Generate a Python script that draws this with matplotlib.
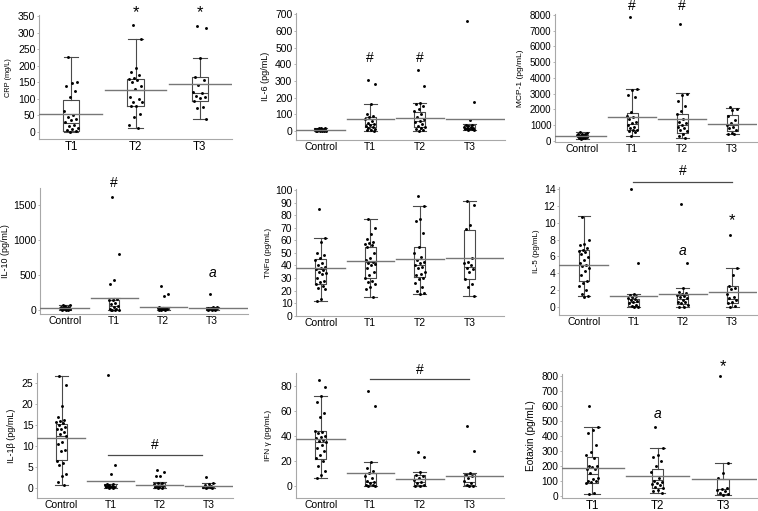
import numpy as np
import matplotlib
matplotlib.use("Agg")
import matplotlib.pyplot as plt

plt.rcParams["font.family"] = ["Liberation Sans", "DejaVu Sans"]

W, H = 758, 511

# ---- data ----
# CRP
crp_groups = ["T1", "T2", "T3"]
crp_points = [
    [225, 150, 147, 138, 123, 107, 62, 52, 46, 38, 35, 30, 22, 18, 12, 8, 5, 2, 0],
    [322, 281, 192, 182, 172, 162, 160, 158, 150, 140, 130, 105, 100, 92, 90, 80, 78, 55, 45, 22, 11],
    [320, 313, 222, 165, 158, 143, 122, 118, 110, 105, 103, 95, 75, 72, 39],
]
crp_q1 = [3, 78, 94]
crp_med = [26, 128, 119]
crp_q3 = [96, 161, 165]
crp_lo = [0, 11, 39]
crp_hi = [225, 281, 222]
crp_mean = [53, 128, 144]

# IL-6
il6_groups = ["Control", "T1", "T2", "T3"]
il6_points = [
    [20, 18, 16, 14, 12, 11, 10, 9, 8, 7, 6, 5, 5, 4, 3, 3, 2, 1, 1, 0],
    [305, 285, 163, 100, 92, 82, 72, 62, 50, 42, 35, 28, 22, 18, 12, 8, 4, 0],
    [365, 270, 166, 160, 150, 130, 120, 100, 82, 72, 62, 52, 42, 32, 26, 20, 12, 6, 3],
    [662, 172, 66, 38, 35, 30, 26, 22, 20, 18, 15, 12, 10, 8, 5],
]
il6_q1 = [2, 22, 22, 10]
il6_med = [6, 40, 62, 20]
il6_q3 = [12, 86, 116, 34]
il6_lo = [0, 0, 3, 5]
il6_hi = [20, 163, 166, 40]
il6_mean = [8, 72, 80, 74]

# MCP-1
mcp_groups = ["Control", "T1", "T2", "T3"]
mcp_points = [
    [560, 500, 450, 420, 400, 380, 360, 340, 320, 300, 290, 280, 260, 240, 220, 200, 180, 150, 100],
    [7900, 3300, 3200, 2900, 2800, 1850, 1600, 1500, 1350, 1200, 1100, 1000, 900, 800, 700, 650, 600, 550, 300],
    [7400, 3000, 2900, 2500, 2200, 1900, 1700, 1400, 1200, 1100, 1000, 900, 800, 700, 600, 450, 300, 200],
    [2150, 2000, 1950, 1600, 1300, 1150, 1000, 900, 800, 700, 500, 450, 400],
]
mcp_q1 = [220, 680, 470, 615]
mcp_med = [300, 1050, 1000, 1000]
mcp_q3 = [380, 1780, 1680, 1610]
mcp_lo = [100, 280, 200, 400]
mcp_hi = [560, 3300, 3020, 2100]
mcp_mean = [318, 1530, 1380, 1060]

# IL-10
il10_groups = ["Control", "T1", "T2", "T3"]
il10_points = [
    [75, 65, 55, 48, 42, 38, 32, 28, 25, 22, 18, 15, 12, 10, 8, 5, 3, 0],
    [1620, 795, 430, 371, 160, 150, 140, 100, 80, 60, 40, 20, 10, 5, 0, 0, 0],
    [340, 225, 200, 42, 35, 30, 25, 20, 15, 12, 10, 5, 3, 0],
    [225, 42, 38, 32, 28, 25, 20, 15, 12, 10, 5, 3, 0],
]
il10_q1 = [10, 5, 5, 5]
il10_med = [25, 60, 15, 15]
il10_q3 = [45, 143, 30, 35]
il10_lo = [0, 0, 0, 0]
il10_hi = [75, 165, 45, 45]
il10_mean = [24, 176, 48, 29]

# TNFa
tnf_groups = ["Control", "T1", "T2", "T3"]
tnf_points = [
    [85, 62, 59, 50, 48, 46, 44, 42, 40, 39, 38, 37, 36, 35, 34, 33, 30, 28, 27, 25, 24, 22, 21, 13, 12],
    [77, 70, 65, 61, 59, 58, 57, 56, 55, 50, 46, 44, 43, 42, 41, 40, 38, 35, 32, 30, 28, 27, 25, 23, 21, 15],
    [95, 87, 77, 75, 66, 55, 50, 47, 44, 43, 42, 40, 39, 38, 35, 33, 32, 30, 29, 26, 23, 20, 18, 17],
    [91, 88, 72, 69, 46, 43, 42, 40, 38, 37, 35, 29, 25, 23, 16],
]
tnf_q1 = [25, 30, 30.5, 29]
tnf_med = [37, 43, 40, 39]
tnf_q3 = [45, 55, 55, 68]
tnf_lo = [12, 15, 17, 16]
tnf_hi = [62, 77, 87, 91]
tnf_mean = [38, 43.5, 45.3, 46.3]

# IL-5
il5_groups = ["Control", "T1", "T2", "T3"]
il5_points = [
    [10.7, 7.9, 7.5, 7.3, 7.0, 6.8, 6.6, 6.5, 6.3, 5.9, 5.5, 5.2, 5.0, 4.9, 4.6, 4.3, 3.8, 3.1, 2.8, 2.4, 2.0, 1.5, 1.3, 1.2],
    [14.0, 5.2, 1.5, 1.4, 1.3, 1.2, 1.0, 0.9, 0.8, 0.7, 0.5, 0.4, 0.2, 0.1, 0.0, 0.0],
    [12.2, 5.2, 2.2, 1.8, 1.6, 1.5, 1.4, 1.3, 1.2, 1.0, 0.8, 0.6, 0.5, 0.4, 0.2, 0.0, 0.0],
    [8.5, 4.6, 3.8, 2.5, 2.2, 2.1, 1.5, 1.2, 1.0, 0.8, 0.6, 0.4, 0.1, 0.0],
]
il5_q1 = [3.1, 0.1, 0.3, 0.4]
il5_med = [5.0, 0.6, 0.9, 0.95]
il5_q3 = [6.7, 0.95, 1.4, 2.5]
il5_lo = [1.3, 0.0, 0.0, 0.0]
il5_hi = [10.8, 1.5, 2.2, 4.6]
il5_mean = [4.95, 1.3, 1.55, 1.8]

# IL-1b
il1b_groups = ["Control", "T1", "T2", "T3"]
il1b_points = [
    [26.8, 24.5, 19.5, 17.0, 16.2, 16.0, 15.8, 15.5, 15.0, 14.5, 14.2, 14.0, 13.5, 13.0, 12.5, 11.0, 10.5, 9.0, 8.8, 6.5, 6.0, 5.5, 3.5, 3.0, 1.5, 0.8],
    [26.9, 5.5, 3.3, 1.0, 0.9, 0.8, 0.7, 0.6, 0.5, 0.4, 0.3, 0.2, 0.1, 0.0],
    [4.3, 3.8, 3.0, 2.9, 1.3, 1.2, 1.0, 0.8, 0.6, 0.5, 0.3, 0.2, 0.1, 0.0],
    [2.6, 1.3, 1.1, 0.8, 0.5, 0.4, 0.3, 0.2, 0.1, 0.0],
]
il1b_q1 = [6.7, 0.2, 0.1, 0.05]
il1b_med = [12.5, 0.5, 0.5, 0.2]
il1b_q3 = [15.3, 0.9, 1.2, 0.6]
il1b_lo = [0.8, 0.0, 0.0, 0.0]
il1b_hi = [26.8, 1.0, 1.4, 1.3]
il1b_mean = [11.9, 1.75, 0.8, 0.5]

# IFN gamma
ifn_groups = ["Control", "T1", "T2", "T3"]
ifn_points = [
    [85, 79, 72, 67, 58, 55, 44, 43, 42, 40, 39, 38, 37, 36, 35, 33, 30, 28, 25, 22, 20, 16, 12, 9, 6],
    [76, 64, 19.5, 14, 12, 10, 8, 6, 4, 3, 2, 1, 0.5, 0, 0],
    [27, 23, 11, 9, 8, 6, 5, 3, 2, 1, 0, 0],
    [48, 28, 10, 9, 8, 6, 4, 2, 1, 0, 0],
]
ifn_q1 = [21.4, 0.5, 0.5, 0.5]
ifn_med = [35, 3, 3, 3]
ifn_q3 = [44, 10, 9, 9.5]
ifn_lo = [6, 0, 0, 0]
ifn_hi = [72, 19.5, 11, 10.5]
ifn_mean = [37.5, 10, 5.2, 7.8]

# Eotaxin
eot_groups = ["T1", "T2", "T3"]
eot_points = [
    [595, 460, 440, 420, 340, 290, 270, 250, 200, 195, 190, 180, 175, 150, 120, 110, 100, 95, 90, 85, 20, 10],
    [460, 315, 270, 255, 230, 200, 160, 120, 100, 90, 85, 80, 70, 60, 50, 40, 30, 20],
    [795, 220, 150, 120, 50, 45, 40, 30, 20, 10, 5],
]
eot_q1 = [86, 53, 11]
eot_med = [147, 103, 42]
eot_q3 = [257, 180, 114]
eot_lo = [10, 18, 5]
eot_hi = [460, 315, 220]
eot_mean = [187, 130, 114]


fig = plt.figure(figsize=(W / 100, H / 100), dpi=100)

LINE = "#4a4a4a"
AXIS = "#a8a8a8"


def jitter(n, spread=0.11):
    # fixed, evenly spread offsets so the dots do not stack
    k = np.arange(n)
    return ((k * 0.618034 + 0.3) % 1.0 - 0.5) * 2 * spread


def panel(rect, xlim, ylim, yticks, ylabel, label_x, groups, points, q1, med, q3, lo, hi, mean,
          notes=(), bar=None, xfs=7.5, yfs=7.5, lfs=6.5, bw=0.22, cw=0.26, spread=0.11):
    left, right, top, bottom = rect
    ax = fig.add_axes([left / W, 1 - bottom / H, (right - left) / W, (bottom - top) / H])
    n = len(groups)
    pos = np.arange(1, n + 1)
    stats = [dict(q1=q1[i], med=med[i], q3=q3[i], whislo=lo[i], whishi=hi[i]) for i in range(n)]
    ax.bxp(stats, positions=pos, widths=bw, capwidths=cw, showfliers=False,
           boxprops=dict(color=LINE, lw=0.8), medianprops=dict(color=LINE, lw=0.8),
           whiskerprops=dict(color=LINE, lw=0.8), capprops=dict(color=LINE, lw=0.8),
           manage_ticks=False)
    for i, vals in enumerate(points):
        ax.plot(pos[i] + jitter(len(vals), spread), vals, "o", ms=2.1, mew=0, color="black", zorder=3)
    for i, m in enumerate(mean):
        x0 = xlim[0] if i == 0 else pos[i] - 0.48
        x1 = xlim[1] if i == n - 1 else pos[i] + 0.48
        ax.plot([x0, x1], [m, m], color="#777777", lw=1.0, zorder=4)

    ax.set_xlim(*xlim)
    ax.set_ylim(*ylim)
    ax.set_xticks(pos)
    ax.set_xticklabels(groups)
    ax.set_yticks(yticks)
    ax.tick_params(axis="x", length=0, labelsize=xfs, pad=1.5)
    ax.tick_params(axis="y", length=1.6, width=0.6, color=AXIS, labelsize=yfs, pad=1)
    ax.set_ylabel(ylabel, fontsize=lfs)
    ax.yaxis.label.set_va("center")
    ax.yaxis.set_label_coords((label_x - left) / (right - left), 0.5)
    for s in ("top", "right"):
        ax.spines[s].set_visible(False)
    for s in ("left", "bottom"):
        ax.spines[s].set_color(AXIS)
        ax.spines[s].set_linewidth(0.8)

    for x, y, s, italic in notes:
        ax.text(x, y, s, ha="center", va="center", fontsize=12 if s == "*" else 10,
                style="italic" if italic else "normal", clip_on=False)
    if bar is not None:
        x0, x1, y = bar
        ax.plot([x0, x1], [y, y], color=LINE, lw=0.9, clip_on=False)
    return ax


panel((39, 232, 15.3, 139), (0.5, 3.5), (-21, 352), np.arange(0, 351, 50), "CRP (mg/L)", 9,
      crp_groups, crp_points, crp_q1, crp_med, crp_q3, crp_lo, crp_hi, crp_mean,
      notes=[(2, 360, "*", False), (3, 360, "*", False)], xfs=8.3, lfs=5.3, bw=0.25, cw=0.22)

panel((296, 505, 13.5, 140.2), (0.5, 4.72), (-55, 705), np.arange(0, 701, 100), "IL-6 (pg/mL)", 265,
      il6_groups, il6_points, il6_q1, il6_med, il6_q3, il6_lo, il6_hi, il6_mean,
      notes=[(2, 436, "#", False), (3, 436, "#", False)])

panel((555, 757, 14.2, 141.8), (0.46, 4.5), (-70, 8050), np.arange(0, 8001, 1000), "MCP-1 (pg/mL)", 520,
      mcp_groups, mcp_points, mcp_q1, mcp_med, mcp_q3, mcp_lo, mcp_hi, mcp_mean,
      notes=[(2, 8560, "#", False), (3, 8560, "#", False)], yfs=7, lfs=6.0)

panel((40, 248, 188.3, 314), (0.49, 4.73), (-57, 1740), [0, 500, 1000, 1500], "IL-10 (pg/mL)", 6,
      il10_groups, il10_points, il10_q1, il10_med, il10_q3, il10_lo, il10_hi, il10_mean,
      notes=[(2, 1810, "#", False), (4, 533, "a", True)], lfs=6.4)

panel((296, 504, 189.4, 315.7), (0.5, 4.7), (0, 100.5), np.arange(0, 101, 10), "TNF\u03b1 (pg/mL)", 268,
      tnf_groups, tnf_points, tnf_q1, tnf_med, tnf_q3, tnf_lo, tnf_hi, tnf_mean, lfs=5.8)

panel((559, 757, 186.7, 315), (0.495, 4.5), (-1, 14.3), np.arange(0, 15, 2), "IL-5 (pg/mL)", 537,
      il5_groups, il5_points, il5_q1, il5_med, il5_q3, il5_lo, il5_hi, il5_mean,
      notes=[(3, 16.2, "#", False), (3, 6.65, "a", True), (4, 10.3, "*", False)],
      bar=(2, 4, 14.86), lfs=5.8)

panel((37, 233, 372.7, 498.3), (0.5, 4.5), (-2.4, 27.5), np.arange(0, 26, 5), "IL-1\u03b2 (pg/mL)", 12,
      il1b_groups, il1b_points, il1b_q1, il1b_med, il1b_q3, il1b_lo, il1b_hi, il1b_mean,
      notes=[(2.9, 10.3, "#", False)], bar=(1.94, 3.86, 7.8))

panel((296, 504, 372.7, 498.3), (0.5, 4.7), (-10, 90.7), np.arange(0, 81, 20), "IFN \u03b3 (pg/mL)", 268,
      ifn_groups, ifn_points, ifn_q1, ifn_med, ifn_q3, ifn_lo, ifn_hi, ifn_mean,
      notes=[(3, 93, "#", False)], bar=(2, 4, 85.6), lfs=6.0)

panel((562, 757, 374, 497.7), (0.54, 3.52), (-13, 811), np.arange(0, 801, 100), "Eotaxin (pg/mL)", 531,
      eot_groups, eot_points, eot_q1, eot_med, eot_q3, eot_lo, eot_hi, eot_mean,
      notes=[(2, 543, "a", True), (3, 862, "*", False)], xfs=8.3, yfs=7.3, lfs=7.2,
      bw=0.17, cw=0.24, spread=0.1)

fig.savefig("out.png", dpi=100)
